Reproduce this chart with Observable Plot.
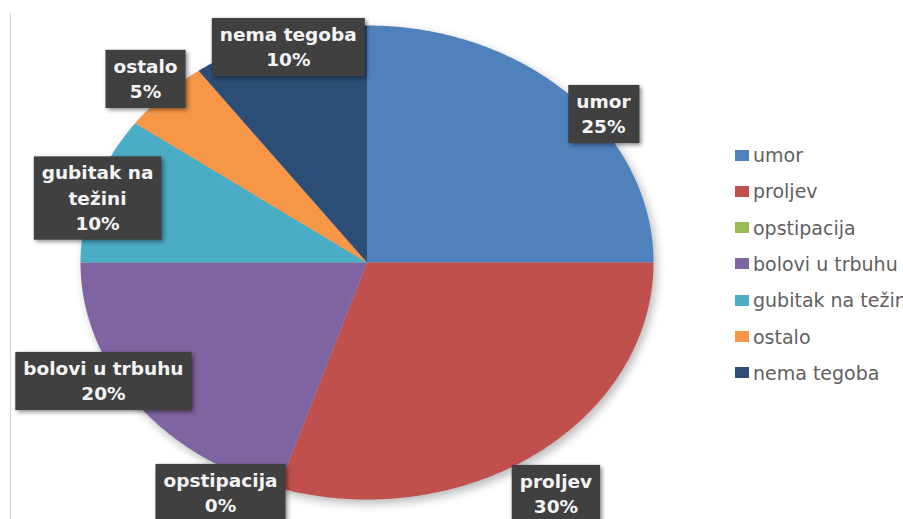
<!DOCTYPE html>
<html><head><meta charset="utf-8">
<script src="https://cdn.jsdelivr.net/npm/d3@7"></script>
<script src="https://cdn.jsdelivr.net/npm/@observablehq/plot@0.6"></script>
<style>
html,body{margin:0;padding:0;background:#fff;overflow:hidden;}
#wrap{position:relative;width:903px;height:519px;overflow:hidden;background:#fff;}
#frame{position:absolute;left:10px;top:13px;bottom:0;border-left:1px solid #d4d4d4;}
#chart{position:absolute;left:0;top:0;}
#chart svg g[aria-label="line"]{filter:drop-shadow(3px 4px 5px rgba(0,0,0,0.28));}
#chart svg g[aria-label="text"]{filter:drop-shadow(2px 2px 2px rgba(0,0,0,0.45));}
#legend{position:absolute;left:735px;top:0;width:200px;height:519px;font-family:"DejaVu Sans";font-size:19px;color:#5f5f5f;white-space:nowrap;}
.item{position:absolute;left:0;display:flex;align-items:center;height:22px;}
.sw{width:14px;height:11px;margin-right:4px;flex:none;}
</style></head>
<body>
<div id="wrap"><div id="frame"></div><div id="chart"></div><div id="legend"></div></div>
<script>
// ---- data ----
const categories = ["umor", "proljev", "opstipacija", "bolovi u trbuhu", "gubitak na težini", "ostalo", "nema tegoba"];
const values = [25, 30, 0, 20, 10, 5, 10];
const colors = ["#4F81BD", "#C0504D", "#9BBB59", "#8064A2", "#4BACC6", "#F79646", "#2C4D75"];

// ---- label layout (polar nudges relative to slice mid-angle) ----
const labelAngleNudge = [7.5, 1.8, 9.9, 7.8, -1.5, 0.3, 1.3];   // degrees
const labelRadius = [1.04, 1.173, 1.093, 1.044, 0.981, 1.099, 0.956];

const total = d3.sum(values);
const toRad = Math.PI / 180;

// slice polygons in unit coordinates (angle 0 = top, clockwise)
const slicePts = [];
const labels = [];
let acc = 0;
categories.forEach((cat, i) => {
  const a0 = acc / total * 360;
  acc += values[i];
  const a1 = acc / total * 360;
  slicePts.push({cat, x: 0, y: 0});
  const n = Math.max(1, Math.ceil((a1 - a0) / 0.5));
  for (let k = 0; k <= n; k++) {
    const a = (a0 + (a1 - a0) * k / n) * toRad;
    slicePts.push({cat, x: Math.sin(a), y: Math.cos(a)});
  }
  const mid = ((a0 + a1) / 2 + labelAngleNudge[i]) * toRad;
  labels.push({
    cat,
    x: Math.sin(mid) * labelRadius[i],
    y: Math.cos(mid) * labelRadius[i],
    text: wrap(cat, 15) + "\n" + Math.round(values[i] / total * 100) + "%"
  });
});

function wrap(s, max) {
  const words = s.split(" "); const lines = []; let cur = "";
  for (const w of words) {
    if (cur && (cur + " " + w).length > max) { lines.push(cur); cur = w; }
    else cur = cur ? cur + " " + w : w;
  }
  lines.push(cur);
  return lines.join("\n");
}

const plot = Plot.plot({
  width: 903,
  height: 519,
  margin: 0,
  x: {domain: [-1, 1], range: [80, 653], axis: null},
  y: {domain: [-1, 1], range: [499, 25], axis: null},
  color: {domain: categories, range: colors},
  style: {background: "transparent", overflow: "visible"},
  marks: [
    Plot.line(slicePts, {x: "x", y: "y", z: "cat", fill: "cat", stroke: null, curve: "linear"}),
    Plot.text(labels, {
      x: "x", y: "y", text: "text",
      fill: "#f4f4f4", fontWeight: "bold", fontSize: 18.5,
      fontFamily: "DejaVu Sans", lineHeight: 1.36
    })
  ]
});
document.getElementById("chart").appendChild(plot);

// dark label boxes behind each text
plot.querySelectorAll('g[aria-label="text"] text').forEach(t => {
  const b = t.getBBox();
  const r = document.createElementNS("http://www.w3.org/2000/svg", "rect");
  r.setAttribute("x", b.x - 8);
  r.setAttribute("y", b.y - 6);
  r.setAttribute("width", b.width + 16);
  r.setAttribute("height", b.height + 12);
  r.setAttribute("fill", "#404040");
  const tr = t.getAttribute("transform");
  if (tr) r.setAttribute("transform", tr);
  t.parentNode.insertBefore(r, t);
});

// legend
const legend = document.getElementById("legend");
categories.forEach((cat, i) => {
  const item = document.createElement("div");
  item.className = "item";
  item.style.top = (155 + i * 36.3 - 11) + "px";
  const sw = document.createElement("span");
  sw.className = "sw"; sw.style.background = colors[i];
  const tx = document.createElement("span");
  tx.textContent = cat;
  item.appendChild(sw); item.appendChild(tx);
  legend.appendChild(item);
});
</script>
</body></html>
